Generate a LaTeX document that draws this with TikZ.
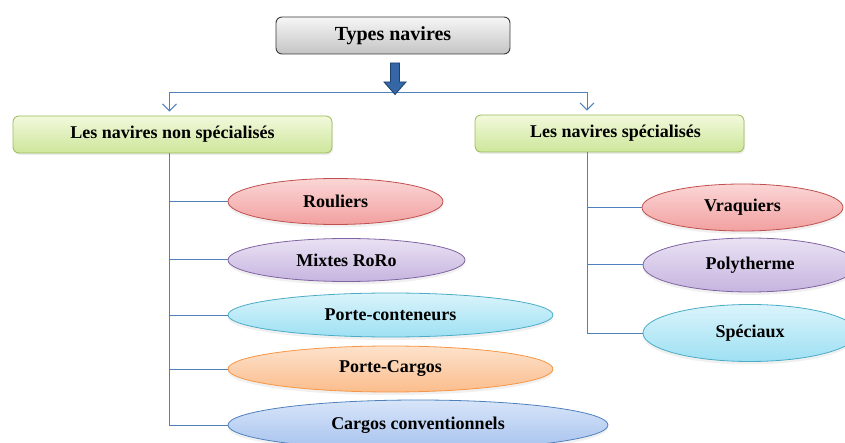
\documentclass[tikz,border=0pt]{standalone}
\usepackage{fontspec}
\setmainfont{Liberation Serif}
\usetikzlibrary{shapes.geometric,arrows.meta,shadows,calc}
\definecolor{lineblue}{HTML}{4F81BD}
\definecolor{redD}{HTML}{C0504D}\definecolor{redT}{HTML}{FBD6D6}\definecolor{redB}{HTML}{F2A0A0}
\definecolor{purD}{HTML}{8064A2}\definecolor{purT}{HTML}{EAE2F4}\definecolor{purB}{HTML}{C6B4DF}
\definecolor{cyaD}{HTML}{4BACC6}\definecolor{cyaT}{HTML}{DAF4FB}\definecolor{cyaB}{HTML}{9EE0F3}
\definecolor{oraD}{HTML}{F79646}\definecolor{oraT}{HTML}{FDE2CC}\definecolor{oraB}{HTML}{FBBD8C}
\definecolor{bluD}{HTML}{4F81BD}\definecolor{bluT}{HTML}{D8E5F9}\definecolor{bluB}{HTML}{A6C2EE}
\definecolor{grnD}{HTML}{9BBB59}\definecolor{grnT}{HTML}{F2F9DC}\definecolor{grnB}{HTML}{CDE69A}
\definecolor{gryD}{HTML}{3A3A3A}\definecolor{gryT}{HTML}{F6F6F6}\definecolor{gryB}{HTML}{C4C4C4}
\definecolor{arrF}{HTML}{3566A6}\definecolor{arrD}{HTML}{1F3F6F}
\begin{document}
\begin{tikzpicture}[x=1pt,y=-1pt,
  font=\bfseries\fontsize{18}{21}\selectfont,
  conn/.style={draw=lineblue, line width=1pt},
  tip/.style={-{Straight Barb[length=7pt,width=14pt,line width=1pt]}, shorten >=4pt},
  ell/.style={ellipse, inner sep=0pt, line width=0.8pt,
    drop shadow={opacity=0.12, shadow xshift=0pt, shadow yshift=-3pt}},
  redell/.style={ell, draw=redD, top color=redT, bottom color=redB},
  purell/.style={ell, draw=purD, top color=purT, bottom color=purB},
  cyaell/.style={ell, draw=cyaD, top color=cyaT, bottom color=cyaB},
  oraell/.style={ell, draw=oraD, top color=oraT, bottom color=oraB},
  bluell/.style={ell, draw=bluD, top color=bluT, bottom color=bluB},
  grnbox/.style={rectangle, rounded corners=6pt, draw=grnD, line width=0.8pt,
    top color=grnT, bottom color=grnB, minimum height=37pt,
    drop shadow={opacity=0.15, shadow xshift=1pt, shadow yshift=-2pt}},
  topbox/.style={rectangle, rounded corners=6pt, draw=gryD, line width=0.9pt,
    top color=gryT, bottom color=gryB, minimum height=37pt,
    font=\bfseries\fontsize{20}{23}\selectfont},
  bigarrow/.style={fill=arrF, draw=arrD, line width=0.8pt}
]
\useasboundingbox (0,0) rectangle (845,443);

\node[topbox, minimum width=234pt] (top) at (393,35.5) {Types navires};

\node[grnbox, minimum width=319pt] (left) at (172.5,134.5) {Les navires non spécialisés};
\node[grnbox, minimum width=269pt] (right) at (609.5,133.5) {\hspace*{12pt}Les navires spécialisés};

\coordinate (hub) at (395,93);
\coordinate (ltop) at ([xshift=-3pt]left.north);
\coordinate (lbot) at ([xshift=-3pt]left.south);
\coordinate (rtop) at ([xshift=-22.5pt]right.north);
\coordinate (rbot) at ([xshift=-22.5pt]right.south);

\draw[conn,tip] (hub) -| (ltop);
\draw[conn,tip] (hub) -| (rtop);

\begin{scope}[shift={(hub)}]
\draw[bigarrow] (-4.5,-30) -- (-4.5,-11) -- (-11,-11) -- (0,1.5) -- (11,-11) -- (4.5,-11) -- (4.5,-30) -- cycle;
\end{scope}

\node[redell, minimum width=215pt, minimum height=46pt] (rou) at (335.5,201.5) {Rouliers};
\node[purell, minimum width=237pt, minimum height=43pt] (mix) at (346.5,260) {Mixtes RoRo};
\node[cyaell, minimum width=325pt, minimum height=44pt] (pcon) at (390.5,315) {Porte-conteneurs};
\node[oraell, minimum width=325pt, minimum height=46pt] (pcar) at (390.5,369) {Porte-Cargos};
\node[bluell, minimum width=380pt, minimum height=50pt] (cargo) at (418,425) {Cargos conventionnels};

\node[redell, minimum width=201pt, minimum height=47pt] (vra) at (742.5,207.5) {Vraquiers};
\node[purell, minimum width=214pt, minimum height=54pt] (pol) at (750,265) {Polytherme};
\node[cyaell, minimum width=214pt, minimum height=57pt] (spe) at (750,333) {Spéciaux};

\foreach \e in {rou,mix,pcon,pcar,cargo}
  \draw[conn] (lbot) |- (\e.west);
\foreach \e in {vra,pol,spe}
  \draw[conn] (rbot) |- (\e.west);
\end{tikzpicture}
\end{document}
